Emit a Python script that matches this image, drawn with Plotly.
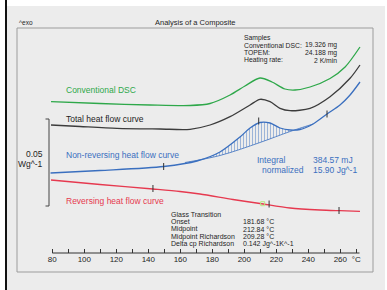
import plotly.graph_objects as go

# ---------------- data (temperature in °C, heat flow in arbitrary units, up = exo) ----------------
conv_T = [79.2, 109.8, 141.1, 166.1, 178.6, 191.1, 200.4, 209.8, 217.3, 225.4, 231.7, 241.1, 253.6, 263.0, 272.3]
conv_y = [151.3, 149.5, 148.0, 147.5, 149.5, 158.0, 167.0, 175.0, 171.0, 164.0, 163.0, 166.0, 174.5, 186.0, 206.0]

total_T = [79.2, 97.3, 120.4, 147.3, 166.1, 178.6, 191.1, 203.6, 209.8, 216.1, 222.3, 228.6, 241.1, 253.6, 266.1, 272.3]
total_y = [128.0, 126.5, 124.7, 124.0, 123.7, 128.0, 136.3, 148.0, 153.7, 151.3, 144.7, 142.3, 144.7, 156.3, 174.7, 188.0]

nonrev_T = [78.9, 109.8, 149.6, 170.4, 184.8, 197.3, 203.6, 209.8, 216.1, 222.3, 228.6, 234.8, 243.0, 251.7, 259.8, 266.1, 272.3]
nonrev_y = [80.0, 82.5, 86.5, 92.0, 101.0, 116.0, 125.0, 130.5, 130.0, 125.0, 123.0, 123.5, 129.0, 139.0, 148.0, 158.0, 171.0]

base_T = [162.9, 184.8, 209.8, 228.6, 243.0]
base_y = [90.5, 97.5, 110.5, 121.5, 129.0]

rev_T = [79.2, 109.8, 142.9, 159.8, 172.3, 192.9, 209.8, 228.6, 247.3, 259.8, 272.3]
rev_y = [73.0, 68.5, 64.0, 61.5, 59.0, 53.5, 49.5, 45.0, 43.0, 42.3, 41.7]

nonrev_mark_T = [149.6, 251.7, 209.0]
nonrev_mark_y = [86.5, 139.0, 132.0]
rev_mark_T = [142.9, 215.5, 259.2]
rev_mark_y = [64.5, 49.0, 42.5]
rev_sq_T = [211.5]
rev_sq_y = [49.3]

tick_vals = list(range(80, 271, 10))
tick_text = [str(v) if v % 20 == 0 and v <= 260 else "" for v in tick_vals]
tick_text[-1] = "°C"

GREEN = "#2ea84a"
BLACK = "#3c3c3c"
BLUE = "#3a6fbf"
RED = "#e6394f"
TXT = "#1e1e1e"
FONT = "Liberation Sans, Arial, sans-serif"

# ---------------- geometry helpers (pixel -> paper) ----------------
W, H = 387, 290
ML, MR, MT, MB = 17, 14, 28, 37
PW, PH = W - ML - MR, H - MT - MB
def px(x):
    return (x - ML) / PW
def py(y):
    return (H - MB - y) / PH

fig = go.Figure()

# hatched integral area
poly_T, poly_y = [base_T[0]], [base_y[0]]
for t, v in zip(nonrev_T, nonrev_y):
    if base_T[0] < t < base_T[-1]:
        poly_T.append(t); poly_y.append(v)
poly_T.append(base_T[-1]); poly_y.append(base_y[-1])
poly_T += base_T[::-1]; poly_y += base_y[::-1]
fig.add_trace(go.Scatter(x=poly_T, y=poly_y, mode="lines", fill="toself",
                         line=dict(width=0, shape="spline", color=BLUE),
                         fillcolor="rgba(0,0,0,0)",
                         fillpattern=dict(shape="|", size=3, solidity=0.3, fgcolor=BLUE,
                                          bgcolor="rgba(0,0,0,0)"),
                         hoverinfo="skip"))
fig.add_trace(go.Scatter(x=base_T, y=base_y, mode="lines",
                         line=dict(color=BLUE, width=0.8, shape="spline")))

for T, Y, c in [(conv_T, conv_y, GREEN), (total_T, total_y, BLACK),
                (nonrev_T, nonrev_y, BLUE), (rev_T, rev_y, RED)]:
    fig.add_trace(go.Scatter(x=T, y=Y, mode="lines",
                             line=dict(color=c, width=1.3, shape="spline", smoothing=0.8)))

fig.add_trace(go.Scatter(x=nonrev_mark_T + rev_mark_T, y=nonrev_mark_y + rev_mark_y, mode="markers",
                         marker=dict(symbol="line-ns", size=5, line=dict(width=1, color="#333"))))
fig.add_trace(go.Scatter(x=rev_sq_T, y=rev_sq_y, mode="markers",
                         marker=dict(symbol="square-open", size=4, line=dict(width=1, color="#333"))))

shapes = [
    # grey panel
    dict(type="rect", xref="paper", yref="paper", x0=px(6), x1=px(385), y0=py(291), y1=py(6),
         fillcolor="#ececec", line=dict(width=0), layer="below"),
    # frame
    dict(type="rect", xref="paper", yref="paper", x0=px(17), x1=px(373), y0=py(272), y1=py(28),
         line=dict(color="#9c9c9c", width=1), layer="below"),
    # left black border
    dict(type="line", xref="paper", yref="paper", x0=px(6), x1=px(6), y0=py(291), y1=py(-1),
         line=dict(color="#111", width=2)),
    # axis line
    dict(type="line", xref="x", yref="paper", x0=80, x1=272, y0=0, y1=0,
         line=dict(color="#333", width=1)),
    # scale bracket
    dict(type="line", xref="paper", yref="paper", x0=px(49), x1=px(49), y0=py(206), y1=py(119),
         line=dict(color="#444", width=1)),
    dict(type="line", xref="paper", yref="paper", x0=px(45.5), x1=px(49), y0=py(119), y1=py(119),
         line=dict(color="#444", width=1)),
    dict(type="line", xref="paper", yref="paper", x0=px(45.5), x1=px(49), y0=py(206), y1=py(206),
         line=dict(color="#444", width=1)),
]

ann = []
def text(x, y, s, size=8.5, color=TXT, anchor="left"):
    ann.append(dict(x=px(x), y=py(y), xref="paper", yref="paper", text=s, showarrow=False,
                    xanchor=anchor, yanchor="middle", font=dict(size=size, color=color, family=FONT)))

text(17, 22, "^exo", 6.5)
text(195, 22.5, "Analysis of a Composite", 7.5, anchor="center")
text(242, 37.5, "Samples", 6.8)
text(242, 45, "Conventional DSC:", 6.8)
text(242, 52.5, "TOPEM:", 6.8)
text(242, 60, "Heating rate:", 6.8)
text(339, 45, "19.326 mg", 6.8, anchor="right")
text(339, 52.5, "24.188 mg", 6.8, anchor="right")
text(339, 60, "2 K/min", 6.8, anchor="right")
text(64, 90, "Conventional DSC", 8.5, GREEN)
text(64, 119.5, "Total heat flow curve", 8.5, TXT)
text(64, 155, "Non-reversing heat flow curve", 8.5, BLUE)
text(64, 201, "Reversing heat flow curve", 8.5, RED)
text(44.5, 153.5, "0.05", 8.5, anchor="right")
text(44.5, 163.5, "Wg^-1", 8.5, anchor="right")
text(255, 160, "Integral", 8.5, BLUE)
text(260, 170, "normalized", 8.5, BLUE)
text(311, 160, "384.57 mJ", 8.5, BLUE)
text(311, 170, "15.90 Jg^-1", 8.5, BLUE)
gt_labels = ["Glass Transition", "Onset", "Midpoint", "Midpoint Richardson", "Delta cp Richardson"]
gt_values = ["", "181.68 °C", "212.84 °C", "209.28 °C", "0.142 Jg^-1K^-1"]
for i, (l, v) in enumerate(zip(gt_labels, gt_values)):
    yy = 214 + i * 7.5
    text(169, yy, l, 7)
    if v:
        text(240.5, yy, v, 7)

fig.update_layout(
    width=W, height=H, margin=dict(l=ML, r=MR, t=MT, b=MB),
    paper_bgcolor="white", plot_bgcolor="rgba(0,0,0,0)",
    showlegend=False, shapes=shapes, annotations=ann,
    font=dict(family=FONT, color=TXT),
    xaxis=dict(range=[80 - (52.3 - ML) / 1.6, 80 + (W - MR - 52.3) / 1.6],
               showgrid=False, zeroline=False, showline=False, fixedrange=True,
               tickmode="array", tickvals=tick_vals, ticktext=tick_text,
               ticks="inside", ticklen=4, tickcolor="#333", tickwidth=1,
               tickfont=dict(size=8, color=TXT, family=FONT)),
    yaxis=dict(range=[0, PH], visible=False, fixedrange=True),
)

fig.write_html("out.html", config={"displayModeBar": False, "staticPlot": True},
               post_script="document.body.style.margin='0';document.body.style.overflow='hidden';")
